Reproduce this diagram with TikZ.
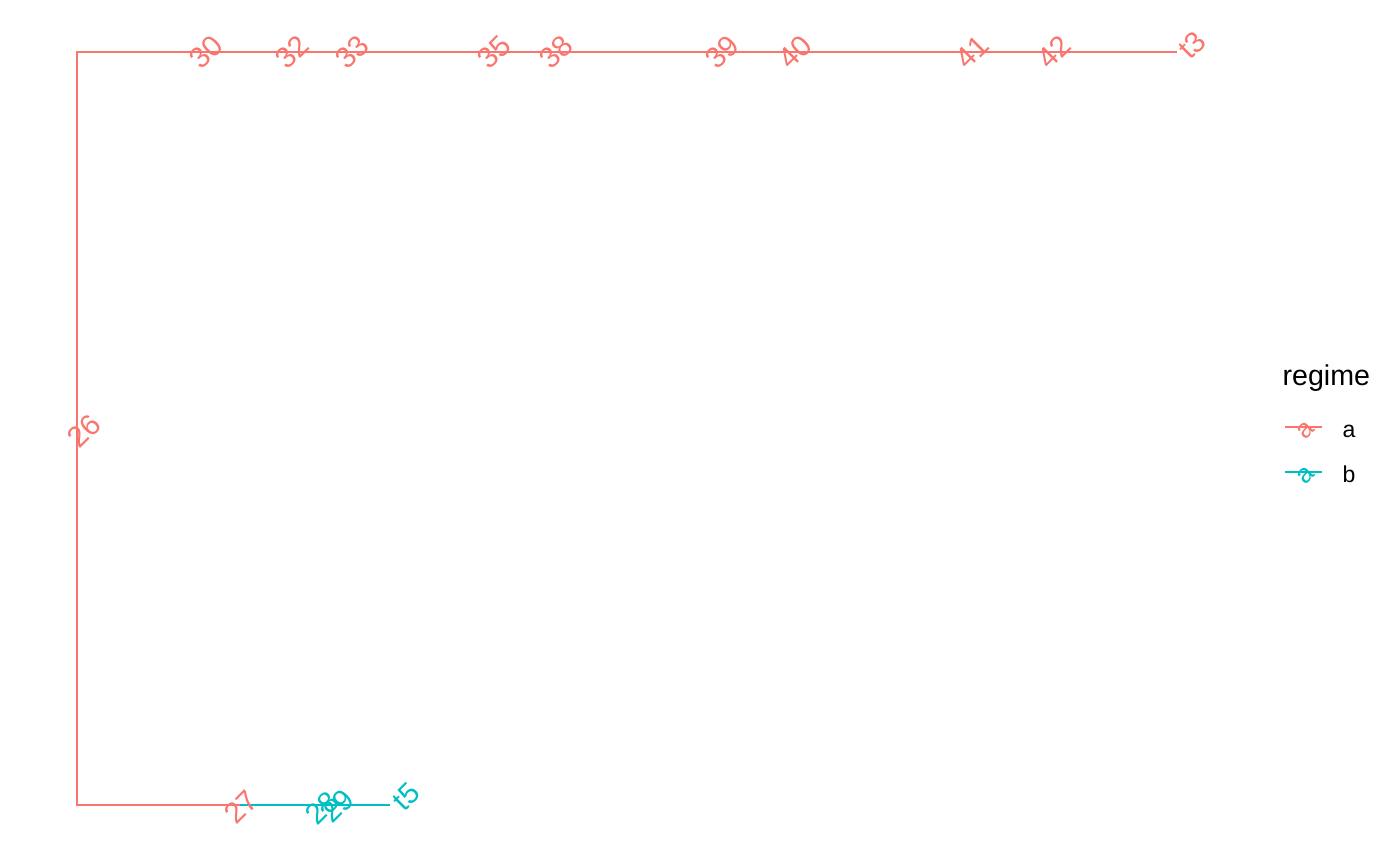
\documentclass[tikz,border=0pt]{standalone}
\usepackage{fontspec}
\setmainfont{Liberation Sans}
\definecolor{cra}{HTML}{F8766D}
\definecolor{crb}{HTML}{00BFC4}
\begin{document}
\begin{tikzpicture}[x=0.36pt,y=-0.36pt,
  br/.style={line width=0.8pt},
  lab/.style={font=\fontsize{10.6}{12}\selectfont, rotate=45, inner sep=0pt, anchor=center},
  keyglyph/.style={font=\fontsize{9.5}{10}\selectfont, rotate=45, inner sep=0pt, anchor=center},
  legtxt/.style={font=\fontsize{8.3}{10}\selectfont, inner sep=0pt, anchor=base west}]
\useasboundingbox (0,0) rectangle (1400,866);
% tree node positions
\coordinate (c26) at (77,429);
\coordinate (t3) at (1177,52);
\coordinate (c27) at (240,805);
\coordinate (t5) at (390,805);
% branches
\draw[br,cra] (c26) |- (t3);
\draw[br,cra] (c26) |- (c27);
\draw[br,crb] (c27) -- (t5);
% labels regime a
\node[lab,text=cra] (l26) at (84,431) {26};
\node[lab,text=cra] (l30) at (206,52) {30};
\node[lab,text=cra] (l32) at (292,52) {32};
\node[lab,text=cra] (l33) at (352,52) {33};
\node[lab,text=cra] (l35) at (494,52) {35};
\node[lab,text=cra] (l38) at (556,52) {38};
\node[lab,text=cra] (l39) at (722,52) {39};
\node[lab,text=cra] (l40) at (795,52) {40};
\node[lab,text=cra] (l41) at (972,52) {41};
\node[lab,text=cra] (l42) at (1054,52) {42};
\node[lab,text=cra] (lt3) at (1192,45) {t3};
\node[lab,text=cra] (l27) at (241,807) {27};
% labels regime b
\node[lab,text=crb] (l28) at (322,808) {28};
\node[lab,text=crb] (l29) at (337,806) {29};
\node[lab,text=crb] (lt5) at (406,797) {t5};
% legend
\node[font=\fontsize{10.3}{12}\selectfont, inner sep=0pt, anchor=base west] (legtitle) at (1282,385) {regime};
\coordinate (ka1) at (1285,427);
\coordinate (ka2) at (1322,427);
\draw[br,cra] (ka1) -- (ka2);
\node[keyglyph,text=cra] (kga) at (1306,430) {a};
\node[legtxt] (lega) at (1342,437) {a};
\coordinate (kb1) at (1285,472);
\coordinate (kb2) at (1322,472);
\draw[br,crb] (kb1) -- (kb2);
\node[keyglyph,text=crb] (kgb) at (1306,475) {a};
\node[legtxt] (legb) at (1342,482) {b};
\end{tikzpicture}
\end{document}
